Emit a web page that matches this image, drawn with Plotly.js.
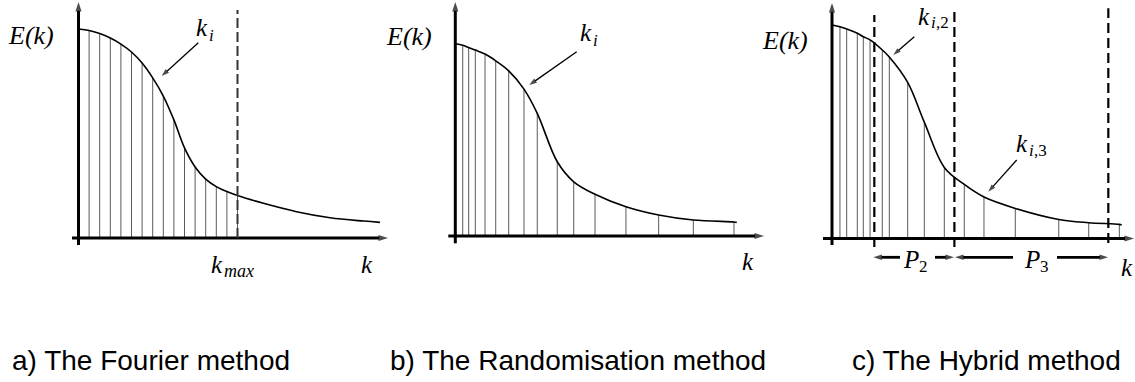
<!DOCTYPE html>
<html>
<head>
<meta charset="utf-8">
<script src="https://cdn.plot.ly/plotly-3.0.1.min.js"></script>
<style>html,body{margin:0;padding:0;background:#fff;}</style>
</head>
<body>
<div id="chart" style="width:1135px;height:382px"></div>
<script>
// ---- Energy spectrum E(k) sampled at the wavenumbers of each method ----

// a) Fourier method: equally spaced modes k_i up to k_max
const kLinesA = [0, 1, 2, 3, 4, 5, 6, 7, 8, 9, 10, 11, 12, 13, 14, 15];
const eLinesA = [1.000, 0.993, 0.978, 0.957, 0.928, 0.890, 0.837, 0.766, 0.679, 0.565, 0.431, 0.340, 0.282, 0.246, 0.222, 0.203];
const kTailA = [17.45, 20.57, 23.73, 26.90, 28.44];
const eTailA = [0.166, 0.126, 0.097, 0.081, 0.075];
const kMaxA = 15;

// b) Randomisation method: modes spread over the whole spectrum
const kLinesB = [0, 0.75, 1.35, 2.02, 3.00, 4.08, 5.39, 6.93, 8.27, 10.29, 11.95, 14.10, 17.22, 20.52, 24.02, 28.12];
const eLinesB = [1.000, 0.992, 0.980, 0.967, 0.946, 0.911, 0.859, 0.764, 0.638, 0.386, 0.282, 0.217, 0.152, 0.109, 0.083, 0.073];
const kTailB = [28.40];
const eTailB = [0.071];

// c) Hybrid method: dense modes in band P2, sparse modes in band P3
const kLinesC = [0, 0.78, 1.44, 2.48, 3.07, 3.73, 4.93, 5.62, 7.42, 9.05, 11.01, 12.97, 14.90, 17.97, 22.23, 25.17, 28.17];
const eLinesC = [1.000, 0.992, 0.981, 0.961, 0.945, 0.930, 0.883, 0.850, 0.731, 0.545, 0.333, 0.253, 0.194, 0.141, 0.089, 0.074, 0.066];
const kTailC = [28.40];
const eTailC = [0.063];
const kBoundsC = [4.15, 12.00, 27.09];

const captions = ['a) The Fourier method', 'b) The Randomisation method', 'c) The Hybrid method'];

// ---- page geometry (pixels) ----
const W = 1135, H = 382;
const panels = [
  {ox: 78.5, oy: 238.0, sx: 10.6, sy: 209.0, L: 0,   R: 400},
  {ox: 455.3, oy: 236.0, sx: 9.91, sy: 192.3, L: 400, R: 775},
  {ox: 832.0, oy: 238.5, sx: 10.2, sy: 213.5, L: 775, R: 1135}
];
const px = x => x / W;
const py = y => 1 - y / H;
const yData = (p, ypx) => (p.oy - ypx) / p.sy;

function mergeCurve(k1, e1, k2, e2) {
  const pts = k1.map((k, i) => [k, e1[i]]).concat(k2.map((k, i) => [k, e2[i]]));
  pts.sort((a, b) => a[0] - b[0]);
  return {x: pts.map(p => p[0]), y: pts.map(p => p[1])};
}
function stems(ks, es) {
  const x = [], y = [];
  ks.forEach((k, i) => { x.push(k, k, null); y.push(0, es[i], null); });
  return {x, y};
}

const sets = [
  {lines: stems(kLinesA, eLinesA), curve: mergeCurve(kLinesA, eLinesA, kTailA, eTailA)},
  {lines: stems(kLinesB, eLinesB), curve: mergeCurve(kLinesB, eLinesB, kTailB, eTailB)},
  {lines: stems(kLinesC, eLinesC), curve: mergeCurve(kLinesC, eLinesC, kTailC, eTailC)}
];

const data = [];
const layout = {
  width: W, height: H,
  margin: {l: 0, r: 0, t: 0, b: 0, pad: 0},
  paper_bgcolor: '#fff', plot_bgcolor: 'rgba(0,0,0,0)',
  showlegend: false,
  shapes: [], annotations: []
};

sets.forEach((s, i) => {
  const p = panels[i];
  const xa = i === 0 ? 'x' : 'x' + (i + 1);
  const ya = i === 0 ? 'y' : 'y' + (i + 1);
  const xKey = i === 0 ? 'xaxis' : 'xaxis' + (i + 1);
  const yKey = i === 0 ? 'yaxis' : 'yaxis' + (i + 1);
  layout[xKey] = {
    domain: [p.L / W, p.R / W],
    range: [(p.L - p.ox) / p.sx, (p.R - p.ox) / p.sx],
    visible: false, fixedrange: true, anchor: ya
  };
  layout[yKey] = {
    domain: [0, 1],
    range: [(p.oy - H) / p.sy, p.oy / p.sy],
    visible: false, fixedrange: true, anchor: xa
  };
  data.push({
    x: s.lines.x, y: s.lines.y, xaxis: xa, yaxis: ya,
    type: 'scatter', mode: 'lines', hoverinfo: 'skip',
    line: {color: '#5a5a5a', width: 1}
  });
  data.push({
    x: s.curve.x, y: s.curve.y, xaxis: xa, yaxis: ya,
    type: 'scatter', mode: 'lines', hoverinfo: 'skip',
    line: {color: '#000', width: 1.6, shape: 'spline', smoothing: 1}
  });
});

// dashed cut-off / band boundaries
layout.shapes.push({
  type: 'line', xref: 'x', yref: 'y', x0: kMaxA, x1: kMaxA,
  y0: 0, y1: yData(panels[0], 10),
  line: {color: '#333', width: 2, dash: '10px,4px'}
});
const boundTops = [15, 11.7, 8.3], boundBottoms = [247, 247, 243];
kBoundsC.forEach((k, j) => {
  layout.shapes.push({
    type: 'line', xref: 'x3', yref: 'y3', x0: k, x1: k,
    y0: yData(panels[2], boundBottoms[j]), y1: yData(panels[2], boundTops[j]),
    line: {color: '#000', width: 2.2, dash: '10px,5px'}
  });
});

// overlay axis in page pixels for the drawing's arrows
layout.xaxis4 = {domain: [0, 1], range: [0, W], visible: false, fixedrange: true, anchor: 'y4'};
layout.yaxis4 = {domain: [0, 1], range: [H, 0], visible: false, fixedrange: true, anchor: 'x4'};

// arrow from tail (tx, ty) to tip (x, y), page pixels
function arrow(x, y, tx, ty, w, size) {
  data.push({
    x: [tx, x], y: [ty, y], xaxis: 'x4', yaxis: 'y4',
    type: 'scatter', mode: 'lines+markers', hoverinfo: 'skip', cliponaxis: false,
    line: {color: '#000', width: w},
    marker: {symbol: 'arrow', angleref: 'previous', size: [0, size], color: '#000', line: {width: 0}}
  });
}
// plain text label; italic for math symbols
function label(x, y, text, size, opts) {
  const o = opts || {};
  layout.annotations.push({
    xref: 'paper', yref: 'paper', x: px(x), y: py(y), text: text,
    showarrow: false, xanchor: o.anchor || 'left', yanchor: 'middle',
    font: {
      family: o.family || 'Liberation Serif, serif', size: size, color: '#000',
      style: o.upright ? 'normal' : 'italic'
    }
  });
}
const BIG = 25, SUB = 17;

// coordinate axes
arrow(78.5, 2, 78.5, 245, 3, 10);
arrow(388, 238, 72, 238, 3, 10);
arrow(455.3, 2, 455.3, 243.3, 3, 10);
arrow(764, 236, 448.3, 236, 3, 10);
arrow(832, 3, 832, 245, 3, 10);
arrow(1134, 238.5, 823, 238.5, 3, 10);

// pointers to the sampled modes
arrow(161.7, 76, 198.3, 42.7, 1.3, 8);
arrow(529.3, 85, 576.7, 51.7, 1.3, 8);
arrow(893.3, 55, 914.3, 36.7, 1.3, 8);
arrow(988.3, 191.7, 1016.7, 160, 1.3, 8);

// band extents P2 and P3
arrow(873.3, 257.3, 900, 257.3, 2.8, 9);
arrow(954, 257.3, 935, 257.3, 2.8, 9);
arrow(955, 257.3, 1013, 257.3, 2.8, 9);
arrow(1108, 257.3, 1057, 257.3, 2.8, 9);

// panel a labels
label(31, 36, 'E(k)', 26, {anchor: 'center'});
label(194, 28, 'k', BIG);
label(207, 35, 'i', SUB);
label(209, 264, 'k', BIG);
label(222, 271, 'max', 18);
label(367, 264, 'k', BIG, {anchor: 'center'});

// panel b labels
label(408.5, 36.5, 'E(k)', 26, {anchor: 'center'});
label(578, 33, 'k', BIG);
label(591, 40, 'i', SUB);
label(747.5, 261, 'k', BIG, {anchor: 'center'});

// panel c labels
label(785, 40, 'E(k)', 26, {anchor: 'center'});
label(916, 16, 'k', BIG);
label(929, 23, 'i', SUB);
label(934, 23, ',2', SUB, {upright: true});
label(1014, 143, 'k', BIG);
label(1027, 150, 'i', SUB);
label(1032, 150, ',3', SUB, {upright: true});
label(901, 259, 'P', BIG);
label(917, 266, '2', SUB, {upright: true});
label(1022, 259, 'P', BIG);
label(1038, 266, '3', SUB, {upright: true});
label(1127, 267, 'k', BIG, {anchor: 'center'});

// captions
const capX = [10, 388, 850];
captions.forEach((c, i) => label(capX[i], 360, c, 28, {upright: true, family: 'Liberation Sans, Arial, sans-serif'}));

Plotly.newPlot('chart', data, layout, {staticPlot: true, displayModeBar: false});
</script>
</body>
</html>
